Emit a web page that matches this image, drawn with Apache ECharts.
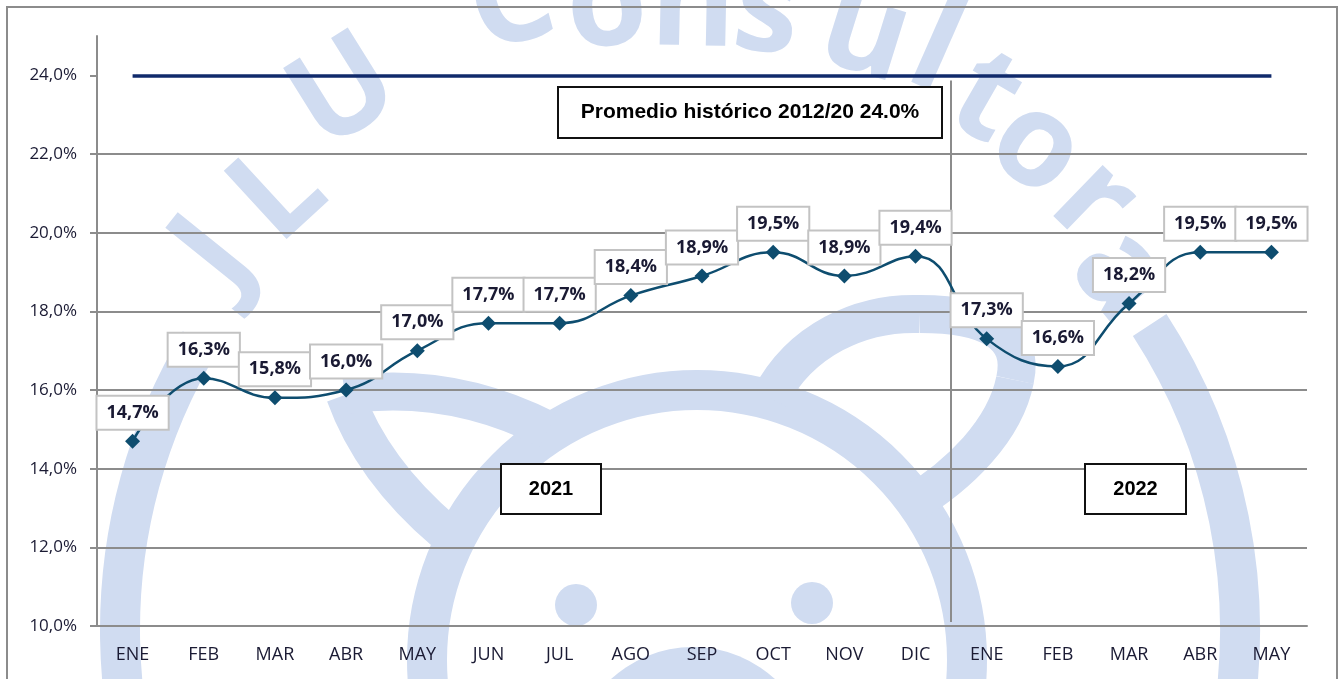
<!DOCTYPE html>
<html lang="es">
<head>
<meta charset="UTF-8">
<title>Tasa mensual 2021-2022</title>
<script src="https://cdn.jsdelivr.net/npm/echarts@6/dist/echarts.min.js"></script>
<style>
  html, body { margin: 0; padding: 0; background: #fff; }
  #chart { width: 1341px; height: 679px; }
</style>
</head>
<body>
<div id="chart"></div>
<script>
// datos
var months = ['ENE', 'FEB', 'MAR', 'ABR', 'MAY', 'JUN', 'JUL', 'AGO', 'SEP', 'OCT', 'NOV', 'DIC',
              'ENE', 'FEB', 'MAR', 'ABR', 'MAY'];
var rate = [14.7, 16.3, 15.8, 16.0, 17.0, 17.7, 17.7, 18.4, 18.9, 19.5, 18.9, 19.4,
            17.3, 16.6, 18.2, 19.5, 19.5];
var histAvg = 24.0;
var histLabel = 'Promedio histórico 2012/20 24.0%';
var yearLabels = ['2021', '2022'];
var yTicks = [10, 12, 14, 16, 18, 20, 22, 24];
var yMin = 10, yMax = 25, yStep = 2;

var GRAY = '#8c8c8c';
var TXT = '#1a1a33';
var LINE = '#0e4d6f';
var WM = '#d0dcf1';

function pct(v) { return v.toFixed(1).replace('.', ',') + '%'; }

var chart = echarts.init(document.getElementById('chart'));

chart.setOption({
  animation: false,
  grid: { left: 97, right: 34, top: 36, bottom: 53 },
  xAxis: {
    type: 'category',
    data: months,
    boundaryGap: true,
    axisLine: { lineStyle: { color: GRAY, width: 2 } },
    axisTick: { length: 8, lineStyle: { color: GRAY, width: 2 } },
    axisLabel: { interval: 0, margin: 20, fontFamily: 'Open Sans', fontSize: 18, color: TXT }
  },
  yAxis: {
    type: 'value',
    min: yMin, max: yMax, interval: yStep,
    axisLine: { show: true, lineStyle: { color: GRAY, width: 2 } },
    axisTick: { show: true, length: 7, customValues: yTicks, lineStyle: { color: GRAY, width: 2 } },
    axisLabel: {
      customValues: yTicks, margin: 20,
      fontFamily: 'Open Sans', fontSize: 17, color: TXT,
      formatter: function (v) { return pct(v); }
    },
    splitLine: { show: true, showMaxLine: false, lineStyle: { color: GRAY, width: 2 } }
  },
  series: [{
    type: 'line',
    data: rate,
    smooth: 0.45,
    symbol: 'diamond',
    symbolSize: 15,
    z: 5,
    itemStyle: { color: LINE },
    lineStyle: { color: LINE, width: 2.5 },
    label: {
      show: true, position: 'top', distance: 5,
      formatter: function (p) { return pct(p.value); },
      backgroundColor: '#fff', borderColor: '#c3c3c3', borderWidth: 2,
      padding: [5, 9, 5, 9], lineHeight: 22,
      fontFamily: 'Open Sans', fontWeight: 'bold', fontSize: 18, color: TXT
    },
    markLine: {
      silent: true, symbol: 'none', label: { show: false },
      lineStyle: { color: '#102a6b', width: 3.5, type: 'solid' },
      data: [[{ coord: [0, histAvg] }, { coord: [months.length - 1, histAvg] }]]
    }
  }]
});

// marca de agua
var wmLetters = [
  ['J', 215, 255], ['L', 280, 195], ['U', 345, 95],
  ['C', 512, 5], ['o', 607, 8], ['n', 693, 8], ['s', 767, 14], ['u', 865, 35],
  ['l', 935, 52], ['t', 985, 100], ['o', 1036, 148], ['r', 1093, 203], ['a', 1120, 275]
];
var wm = wmLetters.map(function (l) {
  var a = Math.atan2(l[2] - 630, l[1] - 680);
  return {
    type: 'text', silent: true, z: -10,
    x: l[1], y: l[2], rotation: -(a + Math.PI / 2),
    style: { text: l[0], fill: WM, font: 'bold 130px "Open Sans"', align: 'center', verticalAlign: 'middle' }
  };
});
var d2r = Math.PI / 180;
function curve(x1, y1, c1x, c1y, c2x, c2y, x2, y2) {
  var s = { x1: x1, y1: y1, cpx1: c1x, cpy1: c1y, x2: x2, y2: y2 };
  if (c2x != null) { s.cpx2 = c2x; s.cpy2 = c2y; }
  return { type: 'bezierCurve', silent: true, z: -10, shape: s,
    style: { stroke: WM, lineWidth: 38, fill: null } };
}
wm.push(
  { type: 'arc', silent: true, z: -10,
    shape: { cx: 680, cy: 630, r: 560, startAngle: -33 * d2r, endAngle: 211 * d2r, clockwise: true },
    style: { stroke: WM, lineWidth: 40, fill: null } },
  { type: 'circle', silent: true, z: -10,
    shape: { cx: 697, cy: 660, r: 270 },
    style: { stroke: WM, lineWidth: 40, fill: null } },
  { type: 'circle', silent: true, z: -10, shape: { cx: 693, cy: 768, r: 121 }, style: { fill: WM } },
  curve(445, 532, 372, 470, null, null, 345, 395),
  curve(345, 395, 450, 380, null, null, 548, 430),
  curve(770, 398, 800, 340, 860, 312, 920, 314),
  curve(920, 314, 990, 314, 1025, 335, 1015, 380),
  curve(1015, 380, 1005, 430, 960, 475, 910, 505),
  { type: 'circle', silent: true, z: -10, shape: { cx: 576, cy: 605, r: 21 }, style: { fill: WM } },
  { type: 'circle', silent: true, z: -10, shape: { cx: 812, cy: 603, r: 21 }, style: { fill: WM } }
);

function box(x, y, w, h, text, size) {
  return [
    { type: 'rect', silent: true, z: 20, shape: { x: x, y: y, width: w, height: h },
      style: { fill: '#fff', stroke: '#111', lineWidth: 2 } },
    { type: 'text', silent: true, z: 21, x: x + w / 2, y: y + h / 2,
      style: { text: text, fill: '#000', font: 'bold ' + size + 'px "Liberation Sans"',
               align: 'center', verticalAlign: 'middle' } }
  ];
}

// separador entre años
var xa = chart.convertToPixel({ xAxisIndex: 0 }, 11);
var xb = chart.convertToPixel({ xAxisIndex: 0 }, 12);
var sepX = Math.round((xa + xb) / 2);
var yTop = chart.convertToPixel({ yAxisIndex: 0 }, 23.87);
var yBot = chart.convertToPixel({ yAxisIndex: 0 }, 10.1);

var graphics = wm.concat(
  [{ type: 'rect', silent: true, z: 1, shape: { x: 7, y: 7, width: 1330, height: 700 },
     style: { fill: null, stroke: GRAY, lineWidth: 2 } },
   { type: 'line', silent: true, z: 1, shape: { x1: sepX, y1: yTop, x2: sepX, y2: yBot },
     style: { stroke: GRAY, lineWidth: 2 } }],
  box(558, 87, 384, 51, histLabel, 21),
  box(501, 464, 100, 50, yearLabels[0], 20),
  box(1085, 464, 101, 50, yearLabels[1], 20)
);

chart.setOption({ graphic: { elements: graphics } });
</script>
</body>
</html>
